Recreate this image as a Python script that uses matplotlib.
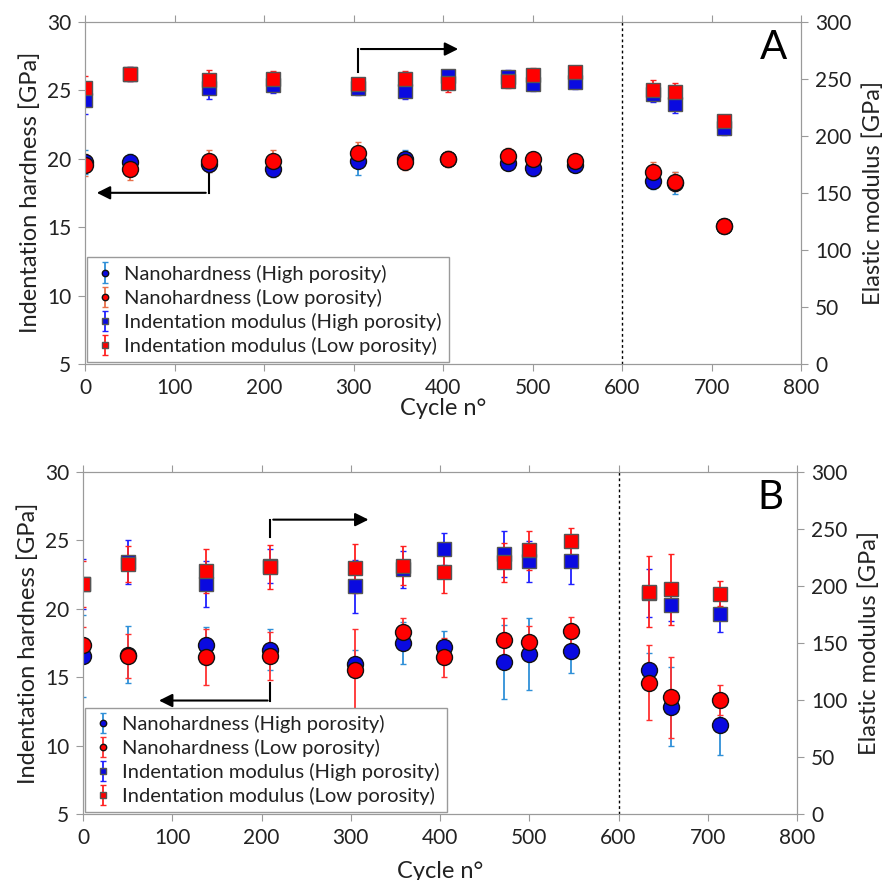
import numpy as np
import matplotlib.pyplot as plt

plt.rcParams['font.family'] = ['Lato', 'DejaVu Sans']

cycles = [0, 50, 138, 210, 305, 358, 405, 472, 500, 547, 634, 659, 714]

# panel A
hA_high = [19.75, 19.75, 19.6, 19.25, 19.8, 20.0, 19.95, 19.7, 19.3, 19.5, 18.35, 18.2, 15.1]
hA_high_err = [0.9, 0.6, 0.6, 0.6, 1.0, 0.6, 0.5, 0.5, 0.6, 0.5, 0.6, 0.8, 0.4]
hA_low = [19.55, 19.25, 19.8, 19.8, 20.4, 19.75, 19.95, 20.2, 19.95, 19.8, 19.05, 18.3, 15.1]
hA_low_err = [0.8, 0.8, 0.8, 0.8, 0.8, 0.6, 0.6, 0.6, 0.5, 0.4, 0.7, 0.7, 0.3]
eA_high = [231, 254, 241.5, 244.5, 241.5, 239.5, 252.5, 251.5, 245.5, 247, 236.5, 228, 206.5]
eA_high_err = [12, 6, 9, 7, 6, 7, 4, 6, 6, 6, 7, 8, 6]
eA_low = [242, 254, 248.5, 250, 245, 249.5, 246.5, 248, 253, 255.5, 240.5, 238.5, 213]
eA_low_err = [10, 6, 9, 7, 6, 7, 8, 6, 6, 3, 8, 8, 5]

# panel B
hB_high = [16.55, 16.65, 17.35, 17.0, 16.0, 17.5, 17.2, 16.1, 16.7, 16.95, 15.5, 12.85, 11.5]
hB_high_err = [3.0, 2.1, 1.3, 1.5, 1.0, 1.5, 1.2, 2.7, 2.6, 1.65, 1.25, 2.9, 2.15]
hB_low = [17.35, 16.55, 16.45, 16.55, 15.55, 18.3, 16.45, 17.75, 17.55, 18.35, 14.6, 13.55, 13.35]
hB_low_err = [1.3, 1.6, 2.05, 1.75, 3.0, 1.05, 1.4, 1.6, 1.2, 1.05, 2.75, 2.95, 1.1]
eB_high = [201.5, 221, 201.5, 217.5, 199.5, 214.5, 232.5, 228, 221.5, 222, 193.5, 183, 175.5]
eB_high_err = [22, 19, 20, 15, 23, 16, 14, 20, 18, 20, 21, 14, 16]
eB_low = [201.5, 219, 213, 216.5, 215.5, 217.5, 212, 220.5, 231, 239, 195, 197, 193]
eB_low_err = [20, 16, 19, 19, 21.5, 17, 18, 17, 17, 12, 31, 31, 11]

labels = ['Nanohardness (High porosity)', 'Nanohardness (Low porosity)',
          'Indentation modulus (High porosity)', 'Indentation modulus (Low porosity)']

grey = '#9a9a9a'
txt = '#222222'


def panel(rect, letter, h_hi, h_hi_e, h_lo, h_lo_e, e_hi, e_hi_e, e_lo, e_lo_e,
          col_lo, arrow_l, arrow_r, xpad):
    ax = fig.add_axes(rect)
    ax2 = ax.twinx()
    hs = []
    hs.append(ax.errorbar(cycles, h_hi, yerr=h_hi_e, fmt='o', ms=11.5, mfc='#0a0ae0', mec='#111111',
                          mew=1.0, ecolor='#2f90d8', elinewidth=1.3, capsize=2.5, capthick=1.3))
    hs.append(ax.errorbar(cycles, h_lo, yerr=h_lo_e, fmt='o', ms=11.5, mfc='#ff0000', mec='#111111',
                          mew=1.0, ecolor=col_lo, elinewidth=1.3, capsize=2.5, capthick=1.3))
    hs.append(ax2.errorbar(cycles, e_hi, yerr=e_hi_e, fmt='s', ms=10, mfc='#0a0ae0', mec='#555555',
                           mew=1.0, ecolor='#2020ff', elinewidth=1.3, capsize=2.5, capthick=1.3))
    hs.append(ax2.errorbar(cycles, e_lo, yerr=e_lo_e, fmt='s', ms=10, mfc='#ff0000', mec='#555555',
                           mew=1.0, ecolor='#ff2020', elinewidth=1.3, capsize=2.5, capthick=1.3))

    ax.axvline(600, color='black', ls=(0, (2, 2)), lw=1.0)

    # arrows pointing to the axis each series belongs to
    for (x0, x1, y, ytick0) in (arrow_l, arrow_r):
        ax.plot([x0, x0], [ytick0, y], color='black', lw=1.5)
        ax.annotate('', xy=(x1, y), xytext=(x0, y),
                    arrowprops=dict(arrowstyle='-|>', color='black', lw=1.5, mutation_scale=20))

    ax.set_xlim(0, 800)
    ax.set_ylim(5, 30)
    ax2.set_ylim(0, 300)
    ax.set_xticks(range(0, 801, 100))
    ax.set_yticks(range(5, 31, 5))
    ax2.set_yticks(range(0, 301, 50))
    for a in (ax, ax2):
        for s in a.spines.values():
            s.set_color(grey)
        a.tick_params(direction='out', length=5, color=grey, labelsize=15, labelcolor=txt, pad=5)
    ax.tick_params(top=True)
    ax.set_xlabel('Cycle n°', fontsize=17, color=txt, labelpad=xpad)
    ax.set_ylabel('Indentation hardness [GPa]', fontsize=17, color=txt, labelpad=4)
    ax2.set_ylabel('Elastic modulus [GPa]', fontsize=17, color=txt, labelpad=8)
    ax.text(0.962, 0.925, letter, transform=ax.transAxes, fontsize=29, ha='center', va='center', color='black')

    leg = ax2.legend(hs, labels, loc='lower left', fontsize=14.5, markerscale=0.4,
                     frameon=True, fancybox=False, borderaxespad=0.1, handletextpad=0.4,
                     handlelength=1.1, labelspacing=0.3, borderpad=0.35)
    leg.get_frame().set_edgecolor(grey)
    leg.get_frame().set_alpha(1)
    for t in leg.get_texts():
        t.set_color(txt)
    return ax


fig = plt.figure(figsize=(8.84, 8.80), dpi=100)
panel([0.0962, 0.5864, 0.810, 0.389], 'A', hA_high, hA_high_err, hA_low, hA_low_err,
      eA_high, eA_high_err, eA_low, eA_low_err, '#e8704a',
      (138, 10, 17.5, 19.2), (305, 420, 28.0, 26.3), 0)
panel([0.0939, 0.0747, 0.8077, 0.3893], 'B', hB_high, hB_high_err, hB_low, hB_low_err,
      eB_high, eB_high_err, eB_low, eB_low_err, '#ff3030',
      (210, 82, 13.3, 14.6), (210, 323, 26.5, 25.2), 9)

fig.savefig('out.png', dpi=100)
